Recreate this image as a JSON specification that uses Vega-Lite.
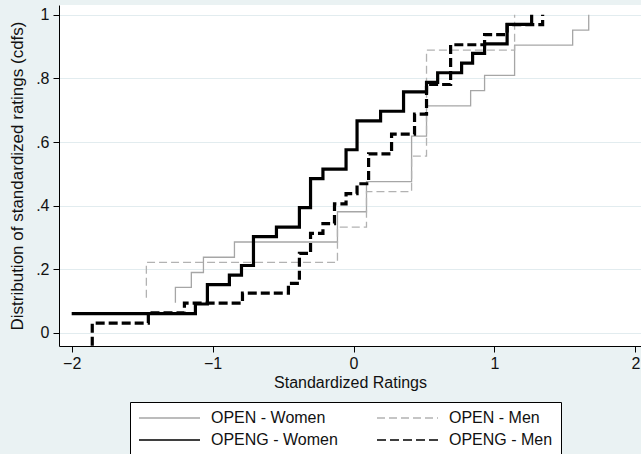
{
  "$schema": "https://vega.github.io/schema/vega-lite/v6.json",
  "width": 582,
  "height": 341,
  "autosize": {"type": "none"},
  "padding": {"left": 59, "top": 5, "right": 0, "bottom": 108},
  "background": "#eaf2f3",
  "config": {
    "view": {"fill": "white", "stroke": null},
    "font": "Liberation Sans",
    "axis": {
      "domainColor": "#000000",
      "domainWidth": 1,
      "tickColor": "#000000",
      "tickWidth": 1,
      "tickSize": 6,
      "labelFontSize": 16,
      "labelColor": "#111111",
      "labelFont": "Liberation Sans",
      "titleFont": "Liberation Sans",
      "titleFontWeight": "normal",
      "titleColor": "#111111"
    }
  },
  "data": {
    "values": [
      {"series": "OPEN - Women", "rating": -1.264, "cdf": 0.095},
      {"series": "OPEN - Women", "rating": -1.264, "cdf": 0.143},
      {"series": "OPEN - Women", "rating": -1.151, "cdf": 0.190},
      {"series": "OPEN - Women", "rating": -1.065, "cdf": 0.238},
      {"series": "OPEN - Women", "rating": -0.845, "cdf": 0.286},
      {"series": "OPEN - Women", "rating": -0.114, "cdf": 0.381},
      {"series": "OPEN - Women", "rating": 0.092, "cdf": 0.476},
      {"series": "OPEN - Women", "rating": 0.412, "cdf": 0.619},
      {"series": "OPEN - Women", "rating": 0.518, "cdf": 0.714},
      {"series": "OPEN - Women", "rating": 0.831, "cdf": 0.762},
      {"series": "OPEN - Women", "rating": 0.930, "cdf": 0.810},
      {"series": "OPEN - Women", "rating": 1.143, "cdf": 0.905},
      {"series": "OPEN - Women", "rating": 1.555, "cdf": 0.952},
      {"series": "OPEN - Women", "rating": 1.669, "cdf": 1.0},

      {"series": "OPEN -  Men", "rating": -1.470, "cdf": 0.111},
      {"series": "OPEN -  Men", "rating": -1.470, "cdf": 0.222},
      {"series": "OPEN -  Men", "rating": -0.114, "cdf": 0.333},
      {"series": "OPEN -  Men", "rating": 0.092, "cdf": 0.444},
      {"series": "OPEN -  Men", "rating": 0.412, "cdf": 0.556},
      {"series": "OPEN -  Men", "rating": 0.518, "cdf": 0.889},
      {"series": "OPEN -  Men", "rating": 1.143, "cdf": 1.0},

      {"series": "OPENG - Women", "rating": -2.0, "cdf": 0.061},
      {"series": "OPENG - Women", "rating": -1.122, "cdf": 0.091},
      {"series": "OPENG - Women", "rating": -1.037, "cdf": 0.152},
      {"series": "OPENG - Women", "rating": -0.881, "cdf": 0.182},
      {"series": "OPENG - Women", "rating": -0.795, "cdf": 0.212},
      {"series": "OPENG - Women", "rating": -0.710, "cdf": 0.303},
      {"series": "OPENG - Women", "rating": -0.547, "cdf": 0.333},
      {"series": "OPENG - Women", "rating": -0.384, "cdf": 0.394},
      {"series": "OPENG - Women", "rating": -0.305, "cdf": 0.485},
      {"series": "OPENG - Women", "rating": -0.217, "cdf": 0.515},
      {"series": "OPENG - Women", "rating": -0.053, "cdf": 0.576},
      {"series": "OPENG - Women", "rating": 0.025, "cdf": 0.667},
      {"series": "OPENG - Women", "rating": 0.192, "cdf": 0.697},
      {"series": "OPENG - Women", "rating": 0.355, "cdf": 0.758},
      {"series": "OPENG - Women", "rating": 0.518, "cdf": 0.788},
      {"series": "OPENG - Women", "rating": 0.597, "cdf": 0.818},
      {"series": "OPENG - Women", "rating": 0.767, "cdf": 0.848},
      {"series": "OPENG - Women", "rating": 0.845, "cdf": 0.879},
      {"series": "OPENG - Women", "rating": 0.930, "cdf": 0.909},
      {"series": "OPENG - Women", "rating": 1.090, "cdf": 0.970},
      {"series": "OPENG - Women", "rating": 1.264, "cdf": 1.0},

      {"series": "OPENG - Men", "rating": -1.854, "cdf": -0.04},
      {"series": "OPENG - Men", "rating": -1.854, "cdf": 0.031},
      {"series": "OPENG - Men", "rating": -1.456, "cdf": 0.063},
      {"series": "OPENG - Men", "rating": -1.200, "cdf": 0.094},
      {"series": "OPENG - Men", "rating": -0.788, "cdf": 0.125},
      {"series": "OPENG - Men", "rating": -0.462, "cdf": 0.156},
      {"series": "OPENG - Men", "rating": -0.384, "cdf": 0.250},
      {"series": "OPENG - Men", "rating": -0.305, "cdf": 0.313},
      {"series": "OPENG - Men", "rating": -0.217, "cdf": 0.344},
      {"series": "OPENG - Men", "rating": -0.135, "cdf": 0.406},
      {"series": "OPENG - Men", "rating": -0.053, "cdf": 0.438},
      {"series": "OPENG - Men", "rating": 0.025, "cdf": 0.469},
      {"series": "OPENG - Men", "rating": 0.107, "cdf": 0.563},
      {"series": "OPENG - Men", "rating": 0.270, "cdf": 0.625},
      {"series": "OPENG - Men", "rating": 0.433, "cdf": 0.688},
      {"series": "OPENG - Men", "rating": 0.518, "cdf": 0.781},
      {"series": "OPENG - Men", "rating": 0.689, "cdf": 0.906},
      {"series": "OPENG - Men", "rating": 0.930, "cdf": 0.938},
      {"series": "OPENG - Men", "rating": 1.090, "cdf": 0.969},
      {"series": "OPENG - Men", "rating": 1.342, "cdf": 1.0}
    ]
  },
  "mark": {"type": "line", "interpolate": "step-after", "clip": true},
  "encoding": {
    "x": {
      "field": "rating",
      "type": "quantitative",
      "scale": {"domain": [-2.09, 2.04], "nice": false, "zero": false},
      "axis": {
        "title": "Standardized Ratings",
        "titleFontSize": 16,
        "titlePadding": 3,
        "values": [-2, -1, 0, 1, 2],
        "format": "d",
        "labelPadding": 3,
        "grid": false
      }
    },
    "y": {
      "field": "cdf",
      "type": "quantitative",
      "scale": {"domain": [-0.041, 1.031], "nice": false, "zero": false},
      "axis": {
        "title": "Distribution of standardized ratings (cdfs)",
        "titleFontSize": 17,
        "titlePadding": 9,
        "values": [0, 0.2, 0.4, 0.6, 0.8, 1],
        "labelExpr": "datum.value === 0 ? '0' : datum.value === 1 ? '1' : '.' + round(datum.value * 10)",
        "labelPadding": 4,
        "grid": true,
        "gridColor": "#e2ecef",
        "gridWidth": 1
      }
    },
    "order": {"field": "cdf"},
    "strokeWidth": {
      "field": "series",
      "type": "nominal",
      "scale": {
        "domain": ["OPEN - Women", "OPENG - Women", "OPEN -  Men", "OPENG - Men"],
        "range": [1.3, 1.3]
      },
      "condition": {
        "test": "datum.series === 'OPENG - Women' || datum.series === 'OPENG - Men'",
        "value": 3.2
      },
      "legend": {"title": null}
    },
    "color": {
      "field": "series",
      "type": "nominal",
      "scale": {
        "domain": ["OPEN - Women", "OPENG - Women", "OPEN -  Men", "OPENG - Men"],
        "range": ["#a6a6a6", "#000000", "#b2b2b2", "#000000"]
      },
      "legend": {
        "title": null,
        "orient": "none",
        "legendX": 71,
        "legendY": 397,
        "direction": "vertical",
        "columns": 2,
        "columnPadding": 38,
        "rowPadding": 6,
        "padding": 8,
        "clipHeight": 16,
        "symbolType": "stroke",
        "symbolSize": 3721,
        "labelFontSize": 16,
        "labelFont": "Liberation Sans",
        "labelColor": "#111111",
        "labelOffset": 10,
        "labelLimit": 300,
        "strokeColor": "#000000",
        "fillColor": "#ffffff",
        "encode": {
          "symbols": {
            "update": {
              "strokeWidth": {"signal": "datum.value === 'OPENG - Women' || datum.value === 'OPENG - Men' ? 3.2 : 1.3"}
            }
          }
        }
      }
    },
    "strokeDash": {
      "field": "series",
      "type": "nominal",
      "scale": {
        "domain": ["OPEN - Women", "OPENG - Women", "OPEN -  Men", "OPENG - Men"],
        "range": [[1, 0], [1, 0], [8, 4], [9, 4]]
      },
      "legend": {"title": null}
    }
  }
}
